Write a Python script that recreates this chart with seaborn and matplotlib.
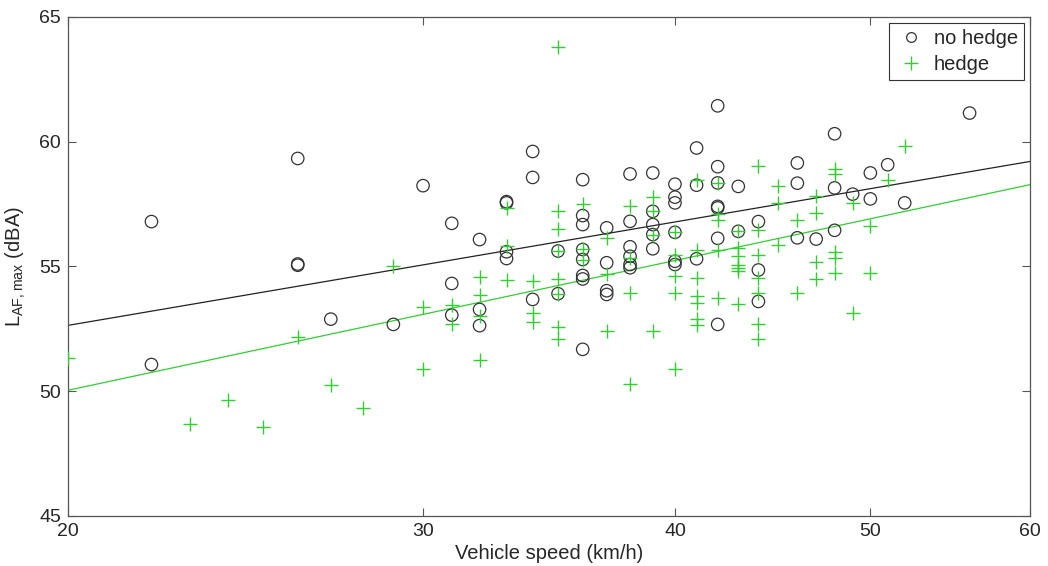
import matplotlib
matplotlib.use("Agg")
import matplotlib.pyplot as plt
import seaborn as sns
import numpy as np
import pandas as pd
from matplotlib.lines import Line2D
from matplotlib.ticker import NullLocator, FixedLocator, FixedFormatter

# ---------------- data ----------------
nohedge_speed = [22, 22, 26, 26, 26, 27, 29, 30, 31, 31, 31, 32, 32, 32,
                 33, 33, 33, 33, 34, 34, 34, 35, 35,
                 36, 36, 36, 36, 36, 36, 36, 36,
                 37, 37, 37, 37, 38, 38, 38, 38, 38, 38,
                 39, 39, 39, 39, 39, 40, 40, 40, 40, 40, 40,
                 41, 41, 41, 42, 42, 42, 42, 42, 42, 42,
                 43, 43, 44, 44, 44, 46, 46, 46, 47, 48, 48, 48,
                 49, 50, 50, 51, 52, 56]
nohedge_level = [56.8, 51.07, 59.33, 55.05, 55.1, 52.89, 52.68, 58.24, 56.73, 54.32, 53.05, 56.08, 53.28, 52.63,
                 57.55, 57.6, 55.59, 55.32, 59.61, 58.57, 53.68, 55.62, 53.91,
                 58.48, 57.04, 56.68, 55.68, 55.28, 54.64, 54.5, 51.68,
                 56.55, 55.15, 54.03, 53.88, 58.71, 56.81, 55.79, 55.41, 55.08, 54.95,
                 58.75, 57.21, 56.68, 56.28, 55.71, 58.3, 57.78, 57.55, 56.37, 55.21, 55.08,
                 59.75, 58.26, 55.31, 61.44, 59.0, 58.35, 57.41, 57.35, 56.13, 52.68,
                 58.21, 56.41, 56.8, 54.86, 53.6, 59.15, 58.34, 56.15, 56.1, 60.32, 58.15, 56.45,
                 57.9, 58.75, 57.71, 59.08, 57.55, 61.15]

hedge_speed = [20, 23, 24, 25, 26, 27, 28, 29, 30, 30, 31, 31,
               32, 32, 32, 32, 33, 33, 33, 34, 34, 34,
               35, 35, 35, 35, 35, 35, 35, 35,
               36, 36, 36, 37, 37, 37, 38, 38, 38, 38,
               39, 39, 39, 39, 40, 40, 40, 40, 40,
               41, 41, 41, 41, 41, 41, 41, 42, 42, 42, 42, 42,
               43, 43, 43, 43, 43, 43, 43, 44, 44, 44, 44, 44, 44, 44,
               45, 45, 45, 46, 46, 47, 47, 47, 47, 48, 48, 48, 48, 48,
               49, 49, 50, 50, 51, 52]
hedge_level = [51.35, 48.67, 49.65, 48.57, 52.19, 50.24, 49.32, 55.01, 53.39, 50.88, 53.44, 52.7,
               54.57, 53.85, 51.27, 53.0, 57.35, 55.81, 54.44, 54.4, 53.15, 52.77,
               63.79, 57.21, 56.51, 55.62, 54.5, 53.91, 52.57, 52.11,
               57.52, 55.7, 55.28, 56.15, 54.7, 52.41, 57.41, 55.35, 53.95, 50.31,
               57.79, 57.21, 56.28, 52.41, 56.37, 55.48, 54.61, 53.95, 50.9,
               58.45, 55.68, 54.55, 53.81, 53.55, 52.91, 52.64, 58.35, 57.12, 56.85, 55.68, 53.75,
               56.41, 55.75, 55.41, 55.08, 54.95, 54.81, 53.48, 59.01, 56.48, 55.48, 54.55, 53.95, 52.68, 52.11,
               58.21, 57.55, 55.88, 56.88, 53.95, 57.81, 57.15, 55.17, 54.48, 58.9, 58.7, 55.58, 55.35, 54.75,
               57.55, 53.15, 56.64, 54.72, 58.45, 59.84]

# regression lines (end values)
fit_speed = [20, 60]
nohedge_fit = [52.64, 59.21]
hedge_fit = [50.04, 58.28]

xticks = [20, 30, 40, 50, 60]
yticks = [45, 50, 55, 60, 65]
series_labels = ["no hedge", "hedge"]

# ---------------- style ----------------
sns.set_style("white")
plt.rcParams['font.family'] = ['Liberation Sans', 'DejaVu Sans']
plt.rcParams['mathtext.fontset'] = 'custom'
plt.rcParams['mathtext.rm'] = 'Liberation Sans'

GREEN = '#33cc33'
EDGE = '#555555'

fig = plt.figure(figsize=(10.48, 5.66), dpi=100)
ax = fig.add_axes([68 / 1048, 1 - 516 / 566, (1030 - 68) / 1048, (516 - 17) / 566])

df_nh = pd.DataFrame({"speed": nohedge_speed, "level": nohedge_level})
df_h = pd.DataFrame({"speed": hedge_speed, "level": hedge_level})

sns.scatterplot(data=df_nh, x="speed", y="level", ax=ax, marker='o', s=80,
                facecolor='none', edgecolor='#333333', linewidth=0.9, zorder=3)
sns.scatterplot(data=df_h, x="speed", y="level", ax=ax, marker='+', s=110,
                color=GREEN, linewidth=1.0, zorder=3)

sns.lineplot(x=fit_speed, y=nohedge_fit, ax=ax, color='#222222', linewidth=0.9, zorder=2)
sns.lineplot(x=fit_speed, y=hedge_fit, ax=ax, color=GREEN, linewidth=0.9, zorder=2)

ax.set_xscale('log')
ax.set_xlim(20, 60)
ax.set_ylim(45, 65)
ax.xaxis.set_major_locator(FixedLocator(xticks))
ax.xaxis.set_major_formatter(FixedFormatter([str(t) for t in xticks]))
ax.xaxis.set_minor_locator(NullLocator())
ax.set_yticks(yticks)
ax.set_yticklabels([str(t) for t in yticks])

ax.tick_params(axis='both', which='major', direction='in', length=6, width=0.8,
               color=EDGE, labelsize=14, top=True, right=True,
               bottom=True, left=True, pad=5)
for s in ax.spines.values():
    s.set_color(EDGE)
    s.set_linewidth(0.9)
    s.set_visible(True)

ax.set_xlabel("Vehicle speed (km/h)", fontsize=14.5, labelpad=3)
ax.set_ylabel(r"L$_{\mathregular{AF,max}}$ (dBA)", fontsize=14.5, labelpad=8)

handles = [Line2D([], [], linestyle='none', marker='o', markersize=7,
                  markerfacecolor='none', markeredgecolor='#333333', markeredgewidth=0.9),
           Line2D([], [], linestyle='none', marker='+', markersize=10,
                  color=GREEN, markeredgewidth=1.0)]
leg = ax.legend(handles, series_labels, loc='upper right', fontsize=14.5,
                frameon=True, fancybox=False, framealpha=1, edgecolor='#333333',
                borderpad=0.3, handletextpad=0.4, labelspacing=0.35,
                handlelength=1.5, borderaxespad=0.3)
leg.get_frame().set_linewidth(0.8)

fig.savefig("out.png", dpi=100, facecolor='white')
